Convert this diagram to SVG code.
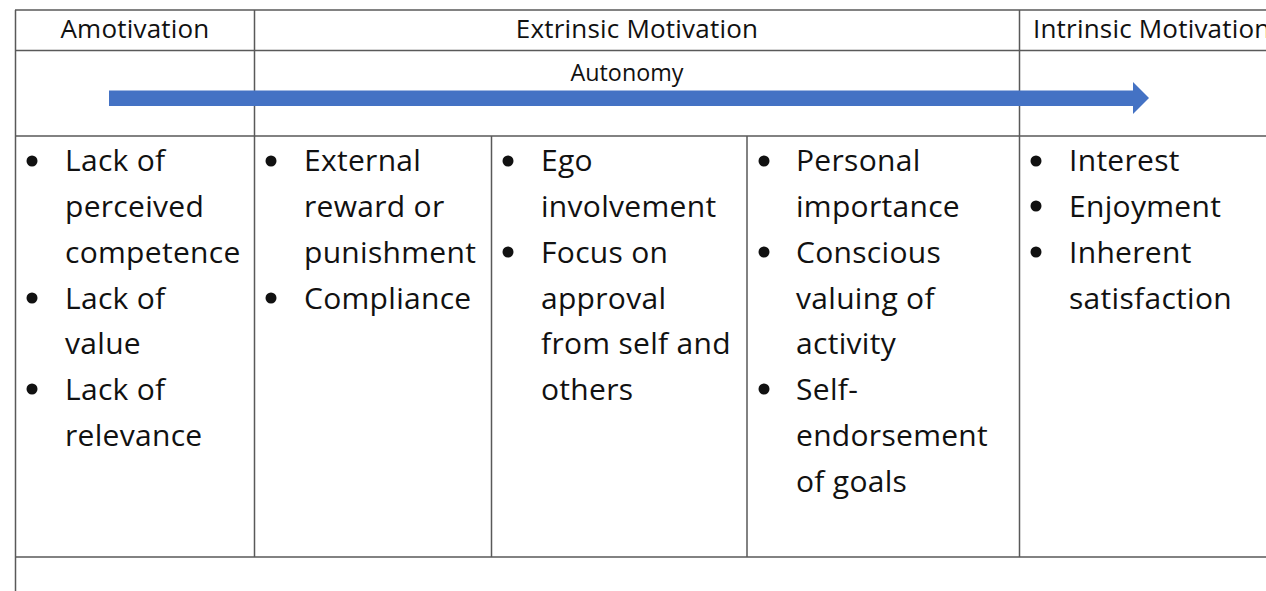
<svg xmlns="http://www.w3.org/2000/svg" width="1266" height="591" viewBox="0 0 1266 591">
<style>
.grid line{stroke:#595959;stroke-width:1.5}
.hd{font-family:"Open Sans","Noto Sans",sans-serif;font-size:26px;letter-spacing:0.2px;fill:#111}
.au{font-family:"Open Sans","Noto Sans",sans-serif;font-size:23.3px;fill:#111}
.bd{font-family:"Open Sans","Noto Sans",sans-serif;font-size:30px;letter-spacing:0.3px;fill:#111}
.bl{fill:#111}
</style>
<rect width="1266" height="591" fill="#fff"/>
<g id="grid" class="grid">
<line x1="15" y1="10" x2="1266" y2="10"/>
<line x1="15" y1="50.5" x2="1266" y2="50.5"/>
<line x1="15" y1="136" x2="1266" y2="136"/>
<line x1="15" y1="557" x2="1266" y2="557"/>
<line x1="15.5" y1="10" x2="15.5" y2="591"/>
<line x1="254.5" y1="10" x2="254.5" y2="557"/>
<line x1="1019.5" y1="10" x2="1019.5" y2="557"/>
<line x1="491.5" y1="136" x2="491.5" y2="557"/>
<line x1="747" y1="136" x2="747" y2="557"/>
</g>
<g id="headers">
<text class="hd" x="135" y="38" text-anchor="middle">Amotivation</text>
<text class="hd" x="637" y="38" text-anchor="middle">Extrinsic Motivation</text>
<text class="hd" x="1033" y="38">Intrinsic Motivation</text>
</g>
<g id="autonomy-arrow">
<text class="au" x="627" y="81" text-anchor="middle">Autonomy</text>
<polygon points="109,90.5 1133,90.5 1133,82 1149,98 1133,114 1133,106 109,106" fill="#4472C4"/>
</g>
<g id="col-amotivation">
<circle class="bl" cx="32" cy="161" r="5.5"/>
<circle class="bl" cx="32" cy="298" r="5.5"/>
<circle class="bl" cx="32" cy="389" r="5.5"/>
<text class="bd" x="65" y="171">Lack of</text>
<text class="bd" x="65" y="217">perceived</text>
<text class="bd" x="65" y="263">competence</text>
<text class="bd" x="65" y="308.5">Lack of</text>
<text class="bd" x="65" y="354">value</text>
<text class="bd" x="65" y="400">Lack of</text>
<text class="bd" x="65" y="446">relevance</text>
</g>
<g id="col-external">
<circle class="bl" cx="271" cy="161" r="5.5"/>
<circle class="bl" cx="271" cy="298" r="5.5"/>
<text class="bd" x="304" y="171">External</text>
<text class="bd" x="304" y="217">reward or</text>
<text class="bd" x="304" y="263">punishment</text>
<text class="bd" x="304" y="308.5">Compliance</text>
</g>
<g id="col-introjected">
<circle class="bl" cx="508" cy="161" r="5.5"/>
<circle class="bl" cx="508" cy="252" r="5.5"/>
<text class="bd" x="541" y="171">Ego</text>
<text class="bd" x="541" y="217">involvement</text>
<text class="bd" x="541" y="263">Focus on</text>
<text class="bd" x="541" y="308.5">approval</text>
<text class="bd" x="541" y="354">from self and</text>
<text class="bd" x="541" y="400">others</text>
</g>
<g id="col-identified">
<circle class="bl" cx="764" cy="161" r="5.5"/>
<circle class="bl" cx="764" cy="252" r="5.5"/>
<circle class="bl" cx="764" cy="389" r="5.5"/>
<text class="bd" x="796" y="171">Personal</text>
<text class="bd" x="796" y="217">importance</text>
<text class="bd" x="796" y="263">Conscious</text>
<text class="bd" x="796" y="308.5">valuing of</text>
<text class="bd" x="796" y="354">activity</text>
<text class="bd" x="796" y="400">Self-</text>
<text class="bd" x="796" y="446">endorsement</text>
<text class="bd" x="796" y="492">of goals</text>
</g>
<g id="col-intrinsic">
<circle class="bl" cx="1036" cy="161" r="5.5"/>
<circle class="bl" cx="1036" cy="206" r="5.5"/>
<circle class="bl" cx="1036" cy="252" r="5.5"/>
<text class="bd" x="1069" y="171">Interest</text>
<text class="bd" x="1069" y="217">Enjoyment</text>
<text class="bd" x="1069" y="263">Inherent</text>
<text class="bd" x="1069" y="308.5">satisfaction</text>
</g>
</svg>
